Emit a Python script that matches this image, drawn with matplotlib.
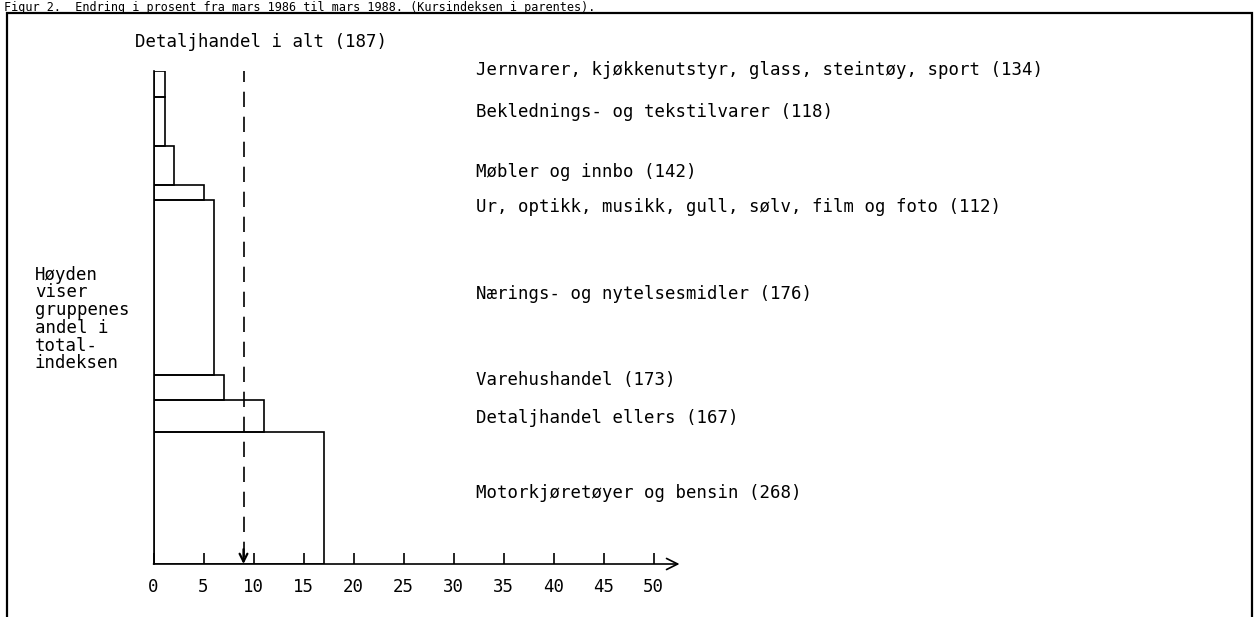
import matplotlib.pyplot as plt
from matplotlib.patches import Rectangle

plt.rcParams['font.family'] = ['DejaVu Sans Mono']
plt.rcParams['font.size'] = 12.5
plt.rcParams['lines.scale_dashes'] = False

# groups listed top to bottom, as in the figure
groups = [
    "Jernvarer, kjøkkenutstyr, glass, steintøy, sport (134)",
    "Beklednings- og tekstilvarer (118)",
    "Møbler og innbo (142)",
    "Ur, optikk, musikk, gull, sølv, film og foto (112)",
    "Nærings- og nytelsesmidler (176)",
    "Varehushandel (173)",
    "Detaljhandel ellers (167)",
    "Motorkjøretøyer og bensin (268)",
]
change = [1.1, 1.1, 2.0, 5.0, 6.0, 7.0, 11.0, 17.0]     # width: % change
weight = [5.3, 9.9, 7.9, 3.0, 35.5, 5.1, 6.5, 26.8]     # height: share of total index
total_change = 9.0
total_label = "Detaljhandel i alt (187)"
xticks = [0, 5, 10, 15, 20, 25, 30, 35, 40, 45, 50]
title = "Figur 2.  Endring i prosent fra mars 1986 til mars 1988. (Kursindeksen i parentes)."
note = "Høyden\nviser\ngruppenes\nandel i\ntotal-\nindeksen"

# label heights (in share units) for the group names
label_y = [100.2, 91.7, 79.5, 72.4, 54.8, 37.3, 29.6, 14.4]

W, H = 1257, 617
fig = plt.figure(figsize=(W / 100, H / 100), dpi=100)
x0, y0, px_x, px_y = 153.5, 564, 10.0, 4.93
ax = fig.add_axes([x0 / W, (H - y0) / H, 55 * px_x / W, 100 * px_y / H])
ax.set_xlim(0, 55)
ax.set_ylim(0, 100)

# stacked from the top down
bottoms = []
top = 100.0
for w in weight:
    top -= w
    bottoms.append(top)

ax.barh(bottoms, change, height=weight, align='edge', fill=False,
        edgecolor='black', linewidth=1.2)

# axes
for s in ['top', 'right', 'bottom']:
    ax.spines[s].set_visible(False)
ax.spines['left'].set_bounds(0, 100)
ax.spines['left'].set_linewidth(1.2)
ax.set_yticks([])
ax.set_xticks(xticks)
ax.tick_params(axis='x', direction='in', length=8, width=1.2, pad=10)
ax.annotate("", xy=(52.6, 0), xytext=(0, 0), annotation_clip=False,
            arrowprops=dict(arrowstyle='->', lw=1.2, shrinkA=0, shrinkB=0,
                            mutation_scale=20, color='black'))

# total line
ax.plot([total_change, total_change], [1.5, 100], color='black', lw=1.2,
        ls=(0, (11, 7)), clip_on=False)
ax.annotate("", xy=(total_change, 0), xytext=(total_change, 3), annotation_clip=False,
            arrowprops=dict(arrowstyle='->', lw=1.6, shrinkA=0, shrinkB=0,
                            mutation_scale=14, color='black'))
ax.text(-1.85, 105.9, total_label, ha='left', va='center', clip_on=False)

for name, yy in zip(groups, label_y):
    ax.text(32.25, yy, name, ha='left', va='center', clip_on=False)

ax.text(-11.85, 60.5, note, ha='left', va='top', linespacing=0.98, clip_on=False)

fig.text(4 / W, 1 - 0.5 / H, title, ha='left', va='top', fontsize=8.5)
fig.add_artist(Rectangle((7 / W, -0.1), (1252 - 7) / W, 1.1 - 13 / H,
                         transform=fig.transFigure, fill=False, lw=1.6,
                         edgecolor='black'))

fig.savefig("out.png", dpi=100)
